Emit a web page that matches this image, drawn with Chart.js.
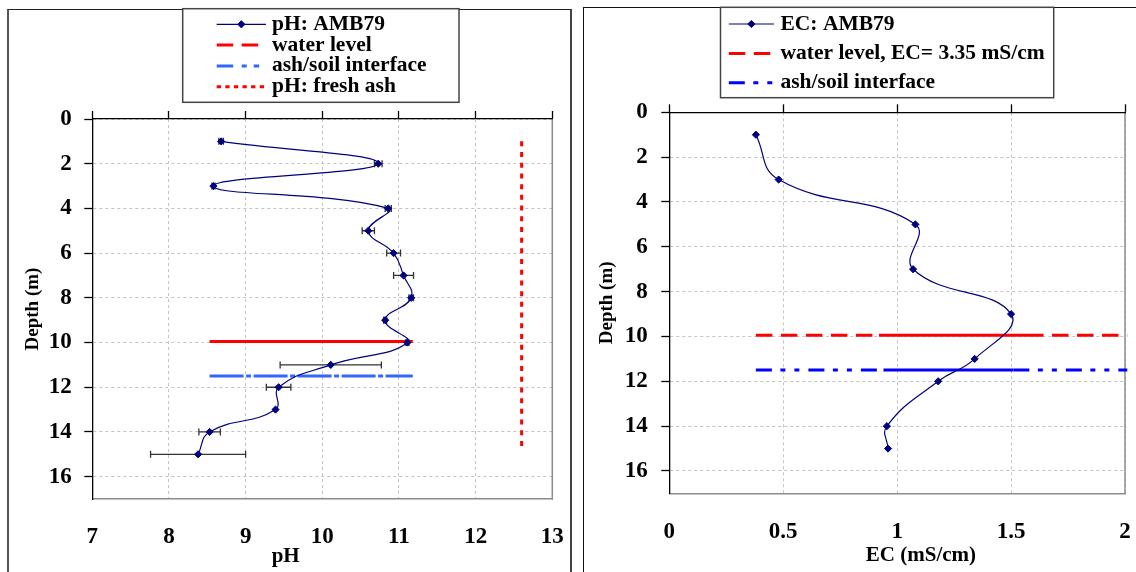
<!DOCTYPE html>
<html>
<head>
<meta charset="utf-8">
<script src="https://cdn.jsdelivr.net/npm/chart.js@4.4.1/dist/chart.umd.min.js"></script>
<style>
  html, body { margin: 0; padding: 0; background: #fff; width: 1136px; height: 572px; overflow: hidden; }
  .panel { position: absolute; }
  #panelPH { left: 7px; top: 9px; width: 561px; height: 600px; border-left: 2px solid #555; border-top: 1px solid #222; border-right: 2px solid #444; }
  #panelEC { left: 583px; top: 7px; width: 600px; height: 600px; border-left: 1px solid #111; border-top: 1px solid #111; }
  canvas { position: absolute; top: 0; }
  #phChart { left: 10px; }
  #ecChart { left: 584px; }
</style>
</head>
<body>
<div class="panel" id="panelPH"></div>
<div class="panel" id="panelEC"></div>
<canvas id="phChart" width="600" height="572"></canvas>
<canvas id="ecChart" width="600" height="572"></canvas>
<script>
const FONT = '"Liberation Serif", "Times New Roman", serif'
const NAVY = '#000080'

// pH profile, well AMB79 (depth in m)
const phDepth = [1, 2, 3, 4, 5, 6, 7, 8, 9, 10, 11, 12, 13, 14, 15]
const phValues = [8.68, 10.73, 8.58, 10.86, 10.60, 10.93, 11.06, 11.16, 10.82, 11.11, 10.11, 9.43, 9.39, 8.53, 8.38]
const phErrors = [0.03, 0.05, 0.02, 0.04, 0.08, 0.09, 0.13, 0.03, 0.02, 0.02, 0.66, 0.16, 0, 0.14, 0.62]

// EC profile, well AMB79
const ecDepth = [1, 3, 5, 7, 9, 11, 12, 14, 15]
const ecValues = [0.38, 0.48, 1.08, 1.07, 1.50, 1.34, 1.18, 0.955, 0.96]

// reference levels
const waterDepth = 9.95
const interfaceDepth = 11.5
const phLevelRange = [8.53, 11.18]
const freshAshPH = 12.6
const freshAshDepth = [1, 14.8]
const ecWaterX = [0.38, 0.92, 1.57, 2.01]
const ecInterfaceX = [0.38, 0.94, 1.51, 2.01]

const pts = (xs, ys) => xs.map((x, i) => ({ x, y: ys[i] }))
const level = (xs, depth) => xs.map((x) => ({ x, y: depth }))

// horizontal error bars with end caps
const errorBars = {
  id: 'errorBars',
  beforeDatasetsDraw(chart) {
    const ctx = chart.ctx
    chart.data.datasets.forEach((ds, i) => {
      if (!ds.errors) return
      const meta = chart.getDatasetMeta(i)
      const xs = chart.scales[meta.xAxisID]
      const ys = chart.scales[meta.yAxisID]
      ctx.save()
      ctx.strokeStyle = '#333'
      ctx.lineWidth = 1.3
      ds.data.forEach((p, j) => {
        const e = ds.errors[j]
        if (!e) return
        const x1 = xs.getPixelForValue(p.x - e)
        const x2 = xs.getPixelForValue(p.x + e)
        const y = ys.getPixelForValue(p.y)
        ctx.beginPath()
        ctx.moveTo(x1, y); ctx.lineTo(x2, y)
        ctx.moveTo(x1, y - 3.5); ctx.lineTo(x1, y + 3.5)
        ctx.moveTo(x2, y - 3.5); ctx.lineTo(x2, y + 3.5)
        ctx.stroke()
      })
      ctx.restore()
    })
  }
}

// grey right edge of the plot area
const plotFrame = {
  id: 'plotFrame',
  beforeDatasetsDraw(chart) {
    const { ctx, chartArea: a } = chart
    ctx.save()
    ctx.strokeStyle = '#8c8c8c'
    ctx.lineWidth = 1.5
    ctx.beginPath()
    ctx.moveTo(a.right, a.top - 0.7)
    ctx.lineTo(a.right, a.bottom + 0.7)
    ctx.stroke()
    ctx.restore()
  }
}

// boxed legend above the plot
const boxLegend = {
  id: 'boxLegend',
  afterDraw(chart, args, opts) {
    const ctx = chart.ctx
    ctx.save()
    ctx.fillStyle = '#fff'
    ctx.fillRect(opts.left, opts.top, opts.width, opts.height)
    ctx.strokeStyle = '#444'
    ctx.lineWidth = 1.5
    ctx.strokeRect(opts.left, opts.top, opts.width, opts.height)
    ctx.font = `bold ${opts.fontSize}px ${FONT}`
    ctx.textBaseline = 'middle'
    chart.data.datasets.forEach((ds, i) => {
      const y = opts.firstRow + i * opts.rowHeight
      const x0 = opts.sampleLeft
      const x1 = x0 + opts.sampleWidth
      ctx.strokeStyle = ds.borderColor
      ctx.lineWidth = ds.borderWidth
      ctx.setLineDash(ds.legendDash || ds.borderDash || [])
      ctx.beginPath()
      ctx.moveTo(x0, y)
      ctx.lineTo(x1, y)
      ctx.stroke()
      ctx.setLineDash([])
      if (ds.pointRadius) {
        const cx = (x0 + x1) / 2
        const r = ds.pointRadius
        ctx.fillStyle = ds.pointBackgroundColor
        ctx.lineWidth = 1
        ctx.beginPath()
        ctx.moveTo(cx - r, y); ctx.lineTo(cx, y - r); ctx.lineTo(cx + r, y); ctx.lineTo(cx, y + r)
        ctx.closePath()
        ctx.fill()
        ctx.stroke()
      }
      ctx.fillStyle = '#000'
      ctx.fillText(ds.label, opts.textLeft, y)
    })
    ctx.restore()
  }
}

// x axis caption under the tick labels
const axisCaption = {
  id: 'axisCaption',
  afterDraw(chart, args, opts) {
    const { ctx, chartArea: a } = chart
    ctx.save()
    ctx.font = `bold 21px ${FONT}`
    ctx.fillStyle = '#000'
    ctx.textAlign = 'center'
    ctx.textBaseline = 'middle'
    ctx.fillText(opts.text, (a.left + a.right) / 2 + opts.shift, opts.y)
    ctx.restore()
  }
}

function makeScales(xr, geo) {
  const tickFont = { family: FONT, size: 23, weight: 'bold' }
  return {
    x: {
      type: 'linear', position: 'bottom', min: xr.min, max: xr.max,
      ticks: { stepSize: xr.step, font: tickFont, color: '#000', padding: geo.xLabelPad, autoSkip: false, maxRotation: 0, callback: (v) => `${v}` },
      grid: { color: '#c4c4c4', lineWidth: 1, drawTicks: false },
      border: { color: '#8c8c8c', width: 1.5, dash: [3, 3], z: 1 },
      afterFit: (s) => { s.height = geo.xHeight }
    },
    xTop: {
      type: 'linear', position: 'top', min: xr.min, max: xr.max,
      ticks: { stepSize: xr.step, display: false },
      grid: { drawOnChartArea: false, drawTicks: true, tickLength: 8, tickColor: '#000', tickWidth: 1.3 },
      border: { color: '#000', width: 1.3, z: 1 },
      afterFit: (s) => { s.height = 8 }
    },
    y: {
      type: 'linear', position: 'left', reverse: true, min: 0, max: 17,
      ticks: { stepSize: 2, includeBounds: false, font: tickFont, color: '#000', padding: geo.yLabelPad, autoSkip: false },
      grid: { color: '#c4c4c4', lineWidth: 1, tickLength: 8, tickColor: '#000', tickWidth: 1.3 },
      border: { color: '#000', width: 1.3, dash: [3, 3], z: 1 },
      title: {
        display: true, text: 'Depth (m)', color: '#000',
        font: { family: FONT, size: 19, weight: 'bold' },
        padding: { top: geo.yTitlePad, bottom: 0 }
      },
      afterFit: (s) => { s.width = geo.yWidth }
    }
  }
}

function makeOptions(scales, geo, legend, caption) {
  return {
    responsive: false,
    devicePixelRatio: 1,
    animation: false,
    events: [],
    layout: { padding: geo.padding },
    scales,
    plugins: {
      legend: { display: false },
      tooltip: { enabled: false },
      boxLegend: legend,
      axisCaption: caption
    }
  }
}

const profileStyle = {
  showLine: true, borderColor: NAVY, borderWidth: 1.2, tension: 0.45,
  pointStyle: 'rectRot', pointRadius: 3.6, pointBackgroundColor: NAVY, pointBorderColor: NAVY, pointBorderWidth: 1
}
const solidMiddle = { borderDash: (c) => (c.p0DataIndex === 1 ? [] : undefined) }

const phGeo = { padding: { left: 0, top: 111, right: 57.7, bottom: 0 }, yWidth: 82.3, yTitlePad: 11.9, yLabelPad: 12.6, xHeight: 73, xLabelPad: 23.9 }
const ecGeo = { padding: { left: 0, top: 104.3, right: 59, bottom: 0 }, yWidth: 85.3, yTitlePad: 11.3, yLabelPad: 13.6, xHeight: 78.6, xLabelPad: 25.1 }

new Chart(document.getElementById('phChart'), {
  type: 'scatter',
  data: {
    datasets: [
      { label: 'pH: AMB79', data: pts(phValues, phDepth), errors: phErrors, ...profileStyle },
      {
        label: 'water level', data: level(phLevelRange, waterDepth), showLine: true,
        borderColor: '#ff0000', borderWidth: 3, pointRadius: 0, legendDash: [16.5, 8.5], clip: false
      },
      {
        label: 'ash/soil interface', data: level(phLevelRange, interfaceDepth), showLine: true,
        borderColor: '#3366ff', borderWidth: 3, borderDash: [34, 2.5, 5, 2.5], legendDash: [16.5, 8.5, 5, 7, 5.5], pointRadius: 0, clip: false
      },
      {
        label: 'pH: fresh ash', data: freshAshDepth.map((d) => ({ x: freshAshPH, y: d })), showLine: true,
        borderColor: '#ff0000', borderWidth: 3, borderDash: [5, 5.7], legendDash: [4.3, 4.3], pointRadius: 0
      }
    ]
  },
  options: makeOptions(
    makeScales({ min: 7, max: 13, step: 1 }, phGeo), phGeo,
    { left: 172.7, top: 8.7, width: 276.3, height: 93.6, firstRow: 24.3, rowHeight: 20.8, sampleLeft: 206.7, sampleWidth: 49.3, textLeft: 262, fontSize: 21.5 },
    { text: 'pH', shift: -36.6, y: 557 }
  ),
  plugins: [plotFrame, errorBars, boxLegend, axisCaption]
})

new Chart(document.getElementById('ecChart'), {
  type: 'scatter',
  data: {
    datasets: [
      { label: 'EC: AMB79', data: pts(ecValues, ecDepth), ...profileStyle },
      {
        label: 'water level, EC= 3.35 mS/cm', data: level(ecWaterX, waterDepth), showLine: true,
        borderColor: '#ff0000', borderWidth: 3, borderDash: [16.5, 8.5], segment: solidMiddle, pointRadius: 0, clip: false
      },
      {
        label: 'ash/soil interface', data: level(ecInterfaceX, interfaceDepth), showLine: true,
        borderColor: '#0000ff', borderWidth: 3, borderDash: [16, 8.5, 5, 9, 5, 9], segment: solidMiddle, pointRadius: 0, clip: false
      }
    ]
  },
  options: makeOptions(
    makeScales({ min: 0, max: 2, step: 0.5 }, ecGeo), ecGeo,
    { left: 136.5, top: 7.3, width: 333.2, height: 90.4, firstRow: 24, rowHeight: 29.4, sampleLeft: 144.8, sampleWidth: 45.2, textLeft: 196.5, fontSize: 21.5 },
    { text: 'EC (mS/cm)', shift: 23.8, y: 556 }
  ),
  plugins: [plotFrame, errorBars, boxLegend, axisCaption]
})
</script>
</body>
</html>
